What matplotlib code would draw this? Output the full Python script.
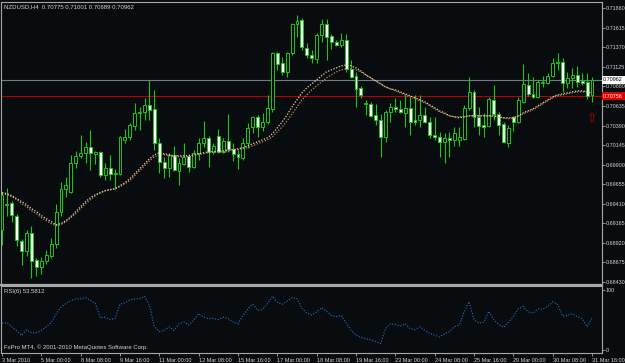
import matplotlib
matplotlib.use('Agg')
import matplotlib.pyplot as plt
from matplotlib.patches import Rectangle

plt.rcParams['font.family'] = ['Liberation Sans', 'DejaVu Sans']

symbol = 'NZDUSD,H4'

opens = [.69087,.69399,.69424,.69262,.68949,.68824,.69049,.68712,.68624,.68699,
.68762,.68912,.69312,.69599,.69562,.69924,.70012,.70049,.70124,.70037,
.70062,.69774,.69862,.69787,.69787,.70212,.70249,.70387,.70549,.70562,
.70649,.70599,.70174,.69937,.69862,.70024,.69824,.69912,.70012,.69874,
.70049,.70174,.70237,.70062,.70262,.70062,.70199,.70099,.70037,.69987,
.70174,.70374,.70499,.70374,.70437,.70599,.71299,.71174,.71062,.71299,
.71662,.71712,.71362,.71274,.71224,.71524,.71662,.71512,.71437,.71399,
.71462,.71099,.71012,.70862,.70662,.70662,.70524,.70462,.70249,.70562,
.70624,.70599,.70549,.70612,.70462,.70462,.70524,.70437,.70274,.70249,
.70187,.70237,.70212,.70212,.70224,.70612,.70812,.70499,.70399,.70387,
.70712,.70537,.70412,.70174,.70499,.70437,.70687,.70899,.70787,.70749,
.70924,.70924,.71012,.71174,.71187,.70924,.70987,.71024,.70949,.70937,
.70775]

highs = [.69562,.69612,.69449,.69287,.68974,.69087,.69137,.68737,.68749,.68837,
.68987,.69412,.69687,.69749,.70024,.70074,.70274,.70187,.70337,.70074,
.70074,.69924,.70024,.69849,.70262,.70349,.70424,.70674,.70624,.70737,
.70962,.70837,.70237,.69999,.70049,.70137,.69987,.70174,.70037,.70087,
.70237,.70449,.70262,.70174,.70349,.70237,.70537,.70174,.70087,.70237,
.70424,.70512,.70524,.70549,.70774,.71312,.71312,.71249,.71312,.71674,
.71774,.71737,.71424,.71337,.71549,.71724,.71724,.71537,.71462,.71549,
.71537,.71212,.71062,.70887,.70712,.70687,.70662,.70537,.70587,.70674,
.70737,.70712,.70774,.70749,.70774,.70774,.70624,.70499,.70499,.70312,
.70299,.70312,.70374,.70374,.70649,.70999,.70837,.70624,.70549,.70749,
.70899,.70562,.70437,.70399,.70512,.70749,.71162,.71049,.70999,.70962,
.71012,.71049,.71237,.71299,.71237,.71062,.71112,.71137,.71049,.71049,
.71001]

lows = [.68899,.69262,.69187,.68887,.68649,.68762,.68487,.68512,.68537,.68662,
.68737,.68862,.69262,.69499,.69549,.69862,.69987,.69924,.69837,.69912,
.69749,.69712,.69712,.69599,.69774,.70174,.70212,.70337,.70337,.70462,
.70462,.70087,.69799,.69737,.69749,.69824,.69649,.69899,.69812,.69862,
.69962,.70124,.69874,.70037,.70049,.70049,.70062,.69949,.69849,.69962,
.70112,.70299,.70249,.70324,.70412,.70562,.71087,.71024,.70999,.71274,
.71499,.71337,.71237,.71174,.71174,.71437,.71212,.71349,.71387,.71374,
.71062,.70987,.70624,.70737,.70524,.70499,.70399,.69999,.70187,.70437,
.70562,.70549,.70374,.70274,.70399,.70374,.70424,.70237,.70212,.69999,
.69924,.69999,.70137,.70137,.70212,.70587,.70374,.70274,.70249,.70374,
.70462,.70274,.70174,.70124,.70324,.70424,.70674,.70762,.70737,.70737,
.70874,.70912,.70999,.71087,.70812,.70862,.70862,.70874,.70899,.70724,
.70689]

closes = [.69524,.69412,.69274,.68962,.68824,.69049,.68699,.68624,.68699,.68774,
.68912,.69312,.69599,.69649,.69924,.70012,.70049,.70124,.70049,.70062,
.69774,.69862,.69787,.69799,.70249,.70249,.70399,.70549,.70562,.70649,
.70587,.70174,.69937,.69862,.70024,.69837,.69924,.69999,.69874,.70049,
.70174,.70237,.70062,.70137,.70062,.70199,.70099,.70037,.69999,.70174,
.70362,.70499,.70374,.70437,.70612,.71299,.71162,.71062,.71299,.71662,
.71699,.71374,.71274,.71237,.71524,.71662,.71499,.71437,.71399,.71462,
.71099,.70999,.70849,.70774,.70674,.70512,.70462,.70249,.70562,.70624,
.70599,.70562,.70612,.70437,.70437,.70524,.70437,.70274,.70249,.70187,
.70237,.70212,.70299,.70249,.70612,.70812,.70499,.70387,.70374,.70724,
.70537,.70399,.70187,.70362,.70437,.70712,.70912,.70787,.70749,.70937,
.70937,.71012,.71174,.71187,.70924,.70987,.71024,.70937,.70924,.70762,
.70962]

ma_fast = [.69549,.69537,.69512,.69474,.69437,.69399,.69349,.69312,.69262,.69224,
.69187,.69149,.69162,.69199,.69249,.69312,.69374,.69437,.69487,.69524,
.69549,.69574,.69587,.69599,.69637,.69674,.69724,.69787,.69849,.69912,
.69974,.70024,.70049,.70037,.70024,.70012,.70012,.70012,.70012,.70024,
.70037,.70049,.70062,.70062,.70074,.70074,.70087,.70087,.70099,.70112,
.70137,.70162,.70187,.70212,.70237,.70287,.70362,.70437,.70524,.70624,
.70712,.70799,.70862,.70912,.70962,.71012,.71062,.71087,.71112,.71137,
.71149,.71137,.71112,.71074,.71024,.70987,.70949,.70912,.70874,.70849,
.70837,.70812,.70787,.70762,.70737,.70712,.70687,.70649,.70612,.70574,
.70549,.70512,.70499,.70487,.70499,.70512,.70512,.70512,.70512,.70512,
.70512,.70499,.70487,.70487,.70487,.70512,.70549,.70574,.70599,.70637,
.70674,.70712,.70749,.70774,.70787,.70799,.70812,.70824,.70824,.70812,
.70799]

ma_slow = [.69537,.69524,.69499,.69462,.69412,.69374,.69324,.69287,.69237,.69199,
.69162,.69137,.69149,.69187,.69237,.69287,.69349,.69412,.69462,.69512,
.69549,.69574,.69587,.69599,.69624,.69662,.69699,.69762,.69824,.69887,
.69949,.69999,.70024,.70024,.70012,.69999,.69999,.69999,.69999,.70012,
.70024,.70037,.70049,.70062,.70062,.70062,.70074,.70087,.70087,.70099,
.70112,.70137,.70162,.70187,.70212,.70249,.70312,.70374,.70449,.70537,
.70624,.70712,.70774,.70837,.70887,.70937,.70987,.71024,.71062,.71087,
.71099,.71099,.71087,.71062,.71024,.70987,.70949,.70912,.70874,.70849,
.70824,.70799,.70774,.70749,.70724,.70699,.70674,.70637,.70599,.70562,
.70537,.70512,.70499,.70499,.70499,.70512,.70512,.70512,.70512,.70512,
.70499,.70487,.70487,.70474,.70487,.70499,.70537,.70562,.70587,.70624,
.70662,.70699,.70737,.70762,.70774,.70787,.70799,.70812,.70812,.70812,
.70799]

rsi = [45,46,39,32,25,34,29,29,33,39,
46,60,72,78,83,86,86,88,83,78,
54,55,51,53,77,79,84,86,86,90,
75,39,31,33,39,33,44,47,42,50,
61,55,53,53,51,55,53,47,44,58,
69,77,67,68,78,90,80,77,82,88,
86,70,62,59,64,71,65,58,56,58,
45,33,25,21,19,17,14,11,36,44,
43,40,44,36,34,39,33,28,25,22,
27,31,39,42,64,81,51,45,47,65,
51,43,38,47,56,69,73,64,62,69,
69,73,81,77,57,58,61,56,53,39,
53.5812]

price_ticks = [0.71860, 0.71615, 0.71370, 0.71125, 0.70880, 0.70635, 0.70390,
               0.70145, 0.69900, 0.69655, 0.69410, 0.69165, 0.68920, 0.68675, 0.68430]
date_tick_bars = [0, 8, 16, 24, 32, 40, 48, 56, 64, 72, 80, 88, 96, 104, 112, 120]
date_tick_labels = ['3 Mar 2010', '5 Mar 00:00', '8 Mar 08:00', '9 Mar 16:00',
                    '11 Mar 00:00', '12 Mar 08:00', '15 Mar 16:00', '17 Mar 00:00',
                    '18 Mar 08:00', '19 Mar 16:00', '23 Mar 00:00', '24 Mar 08:00',
                    '25 Mar 16:00', '29 Mar 00:00', '30 Mar 08:00', '31 Mar 16:00']
bid_price = 0.70962
hline_price = 0.70758
arrow_bar = 120
arrow_price = 0.70481
rsi_period = 6

W, H = 625, 363
BG = '#080c0e'
GREEN = '#1cc41c'
FG = '#d4d4d4'
BORDER = '#a8a8a8'
FS = 4.3
FS_AX = 3.9
FS_X = 4.0

fig = plt.figure(figsize=(W / 100, H / 100), dpi=100, facecolor=BG)


def box(l, t, r, b):
    return [l / W, 1 - b / H, (r - l) / W, (b - t) / H]


ax = fig.add_axes(box(1.5, 2, 602, 284.5))
axr = fig.add_axes(box(1.5, 286, 602, 352.5))
for a in (ax, axr):
    a.set_facecolor(BG)
    for s in a.spines.values():
        s.set_color(BORDER)
        s.set_linewidth(0.8)
ax.spines['bottom'].set_linewidth(1.6)

n = len(closes)
xs = list(range(n))
XL = (-0.1, 122.03)

# ---- main price panel ----
ax.set_xlim(*XL)
ax.set_ylim(0.683995, 0.71937)
ax.axhline(bid_price, color='#6f7b88', lw=0.8, zorder=1)
ax.axhline(hline_price, color='#b40000', lw=0.8, zorder=1)

ax.vlines(xs, lows, highs, color=GREEN, lw=0.8, zorder=3)
for i in xs:
    o, c = opens[i], closes[i]
    lo = min(o, c)
    h = max(abs(c - o), 0.00002)
    ax.add_patch(Rectangle((i - 0.3, lo), 0.6, h,
                           facecolor=(BG if c >= o else 'white'),
                           edgecolor=GREEN, lw=0.7, zorder=4))

ax.plot(xs, ma_slow, color='#c8884c', lw=0.9, ls=(0, (1, 1.3)), zorder=5)
ax.plot(xs, ma_fast, color='#e6d6b8', lw=0.9, ls=(0, (1, 1.3)), zorder=6)

ax.text(arrow_bar, arrow_price, '\u21e7', color='#c00000', fontsize=9,
        ha='center', va='center', family='DejaVu Sans', zorder=7)

ax.yaxis.tick_right()
ax.set_yticks(price_ticks)
ax.set_yticklabels([f'{v:.5f}' for v in price_ticks])
ax.tick_params(axis='y', length=2.0, width=0.6, colors=BORDER,
               labelcolor=FG, labelsize=FS_AX, pad=0.8)
ax.set_xticks([])

xoff = 1 + 1.2 / 600.5
ax.text(xoff, bid_price, f'{bid_price:.5f}', transform=ax.get_yaxis_transform(),
        ha='left', va='center', fontsize=FS_AX, color='black', zorder=10,
        bbox=dict(boxstyle='square,pad=0.3', fc='white', ec='none'))
ax.text(xoff, hline_price, f'{hline_price:.5f}', transform=ax.get_yaxis_transform(),
        ha='left', va='center', fontsize=FS_AX, color='white', zorder=10,
        bbox=dict(boxstyle='square,pad=0.3', fc='#e00000', ec='none'))

# ---- RSI panel ----
axr.set_xlim(*XL)
axr.set_ylim(-4.17, 107.5)
axr.plot(xs, rsi, color='#1e74d0', lw=0.8, ls=(0, (1, 1.5)))
axr.yaxis.tick_right()
axr.set_yticks([0, 100])
axr.set_yticklabels(['0', '100'])
axr.tick_params(axis='y', length=2.0, width=0.6, colors=BORDER,
                labelcolor=FG, labelsize=FS_AX, pad=0.8)
axr.set_xticks(date_tick_bars)
axr.set_xticklabels(date_tick_labels, ha='left')
axr.tick_params(axis='x', length=2.5, width=0.6, colors=BORDER,
                labelcolor=FG, labelsize=FS_X, pad=1.5)

# ---- texts ----
fig.text(4 / W, 1 - 6.5 / H,
         f'{symbol}  {opens[-1]:.5f} {highs[-1]:.5f} {lows[-1]:.5f} {closes[-1]:.5f}',
         color=FG, fontsize=FS, ha='left', va='center')
fig.text(4 / W, 1 - 292 / H, f'RSI({rsi_period}) {rsi[-1]:.4f}',
         color=FG, fontsize=FS, ha='left', va='center')
fig.text(4 / W, 1 - 347.5 / H, 'FxPro MT4, \u00a9 2001-2010 MetaQuotes Software Corp.',
         color=FG, fontsize=FS, ha='left', va='center')

fig.savefig('out.png', dpi=100, facecolor=BG)
